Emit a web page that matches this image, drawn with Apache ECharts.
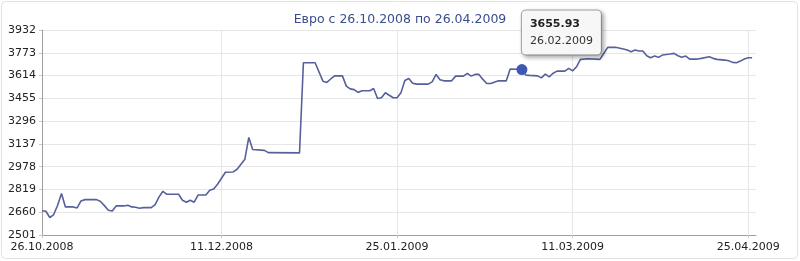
<!DOCTYPE html>
<html><head><meta charset="utf-8">
<script src="https://cdn.jsdelivr.net/npm/echarts@6/dist/echarts.min.js"></script>
<style>html,body{margin:0;padding:0;background:#fff}#c{width:800px;height:261px}</style>
</head><body><div id="c"></div>
<script>
const titleText = 'Евро с 26.10.2008 по 26.04.2009';
const dates = [
'2008-10-26','2008-10-27','2008-10-28','2008-10-29','2008-10-30','2008-10-31','2008-11-01','2008-11-03','2008-11-04','2008-11-05',
'2008-11-06','2008-11-09','2008-11-10','2008-11-11','2008-11-12','2008-11-13','2008-11-14','2008-11-16','2008-11-17','2008-11-18',
'2008-11-19','2008-11-20','2008-11-21','2008-11-23','2008-11-24','2008-11-25','2008-11-26','2008-11-27','2008-11-30','2008-12-01',
'2008-12-02','2008-12-03','2008-12-04','2008-12-05','2008-12-07','2008-12-08','2008-12-09','2008-12-10','2008-12-12','2008-12-14',
'2008-12-15','2008-12-16','2008-12-17','2008-12-18','2008-12-19','2008-12-22','2008-12-23','2008-12-31','2009-01-01','2009-01-04',
'2009-01-06','2009-01-07','2009-01-08','2009-01-09','2009-01-11','2009-01-12','2009-01-13','2009-01-14','2009-01-15','2009-01-16',
'2009-01-18','2009-01-19','2009-01-20','2009-01-21','2009-01-22','2009-01-24','2009-01-25','2009-01-26','2009-01-27','2009-01-28',
'2009-01-29','2009-01-30','2009-02-02','2009-02-03','2009-02-04','2009-02-05','2009-02-06','2009-02-08','2009-02-09','2009-02-11',
'2009-02-12','2009-02-13','2009-02-14','2009-02-15','2009-02-16','2009-02-17','2009-02-18','2009-02-20','2009-02-22','2009-02-23',
'2009-02-26','2009-02-27','2009-02-28','2009-03-02','2009-03-03','2009-03-04','2009-03-05','2009-03-06','2009-03-07','2009-03-09',
'2009-03-10','2009-03-11','2009-03-12','2009-03-13','2009-03-15','2009-03-18','2009-03-19','2009-03-20','2009-03-22','2009-03-24',
'2009-03-25','2009-03-26','2009-03-27','2009-03-28','2009-03-29','2009-03-30','2009-03-31','2009-04-01','2009-04-02','2009-04-03',
'2009-04-05','2009-04-06','2009-04-07','2009-04-08','2009-04-09','2009-04-10','2009-04-12','2009-04-13','2009-04-15','2009-04-16',
'2009-04-17','2009-04-19','2009-04-20','2009-04-21','2009-04-22','2009-04-23','2009-04-24','2009-04-25','2009-04-26'
];
const values = [
2670,2667,2623,2644,2709,2790,2697,2697,2690,2739,
2748,2748,2735,2706,2674,2669,2704,2704,2709,2697,
2695,2688,2692,2692,2713,2767,2806,2785,2785,2744,
2730,2744,2730,2780,2780,2813,2822,2855,2939,2941,
2960,2995,3030,3182,3098,3092,3076,3074,3703,3703,
3575,3566,3590,3612,3612,3540,3521,3516,3496,3508,
3508,3524,3454,3459,3494,3459,3459,3494,3580,3594,
3560,3554,3554,3570,3622,3585,3577,3577,3610,3610,
3629,3610,3622,3622,3587,3559,3559,3577,3577,3660,
3655.93,3617,3615,3612,3598,3624,3605,3630,3645,3645,
3664,3647,3675,3727,3731,3727,3769,3811,3811,3800,
3792,3780,3792,3785,3785,3752,3738,3750,3741,3757,
3764,3769,3752,3741,3750,3729,3729,3734,3745,3734,
3727,3722,3717,3706,3703,3715,3730,3738,3738
];
const yTicks = [2501,2660,2819,2978,3137,3296,3455,3614,3773,3932];
const xTickDates = ['2008-10-26','2008-12-11','2009-01-25','2009-03-11','2009-04-25'];
const xRange = ['2008-10-26','2009-04-27'];
const highlightDate = '2009-02-26';

function ts(s){const p=s.split('-').map(Number);return new Date(p[0],p[1]-1,p[2]).getTime();}
function fmt(t){const d=new Date(t);const z=n=>(n<10?'0':'')+n;return z(d.getDate())+'.'+z(d.getMonth()+1)+'.'+d.getFullYear();}

const hiIdx = dates.indexOf(highlightDate);
const hiVal = values[hiIdx];
const font = 'DejaVu Sans';

const chart = echarts.init(document.getElementById('c'), null, {renderer:'canvas'});
chart.setOption({
  animation:false,
  backgroundColor:'#fff',
  title:{text:titleText,left:'center',top:8,textStyle:{fontFamily:font,fontSize:12.5,fontWeight:'normal',color:'#3a4d8c'}},
  graphic:[{type:'rect',shape:{x:1.5,y:1.5,width:796,height:257,r:4},style:{fill:'none',stroke:'#e2e2e2',lineWidth:1},silent:true,z:-1}],
  grid:{left:42,right:44,top:30,bottom:26,containLabel:false},
  xAxis:{
    type:'value',min:ts(xRange[0]),max:ts(xRange[1]),scale:true,
    axisLine:{show:true,lineStyle:{color:'#a0a0a0',width:1}},
    axisTick:{show:true,length:3,customValues:xTickDates.map(ts),lineStyle:{color:'#c8c8c8'}},
    axisLabel:{show:true,customValues:xTickDates.map(ts),formatter:v=>fmt(v),fontFamily:font,fontSize:11,color:'#222',margin:7,hideOverlap:false},
    splitLine:{show:true,lineStyle:{color:'#e6e6e6',width:1}}
  },
  yAxis:{
    type:'value',min:yTicks[0],max:yTicks[yTicks.length-1],interval:yTicks[1]-yTicks[0],
    axisLine:{show:true,lineStyle:{color:'#a0a0a0',width:1}},
    axisTick:{show:true,length:3,lineStyle:{color:'#c8c8c8'}},
    axisLabel:{fontFamily:font,fontSize:11,color:'#222',margin:6,formatter:v=>String(v)},
    splitLine:{show:true,lineStyle:{color:'#e6e6e6',width:1}}
  },
  series:[{
    type:'line',
    data:dates.map((d,i)=>[ts(d),values[i]]),
    showSymbol:false,smooth:false,
    lineStyle:{color:'#56619c',width:1.6},
    itemStyle:{color:'#56619c'},
    emphasis:{disabled:true},
    markPoint:{
      symbol:'circle',symbolSize:11,silent:true,
      itemStyle:{color:'#3f58b5'},
      data:[{coord:[ts(highlightDate),hiVal],value:hiVal}],
      label:{
        show:true,position:[5.5,-53.5],align:'left',verticalAlign:'top',
        formatter:()=>'{a|'+hiVal.toFixed(2)+'}\n{b|'+fmt(ts(highlightDate))+'}',
        backgroundColor:'#f7f7f7',borderColor:'#a8a8a8',borderWidth:1,borderRadius:4,
        padding:[5,8,5,8],
        shadowBlur:4,shadowColor:'rgba(0,0,0,0.3)',shadowOffsetX:2,shadowOffsetY:2,
        rich:{
          a:{fontFamily:font,fontSize:11,fontWeight:'bold',color:'#222',lineHeight:17},
          b:{fontFamily:font,fontSize:11,color:'#333',lineHeight:17}
        }
      }
    }
  }]
});
</script></body></html>
